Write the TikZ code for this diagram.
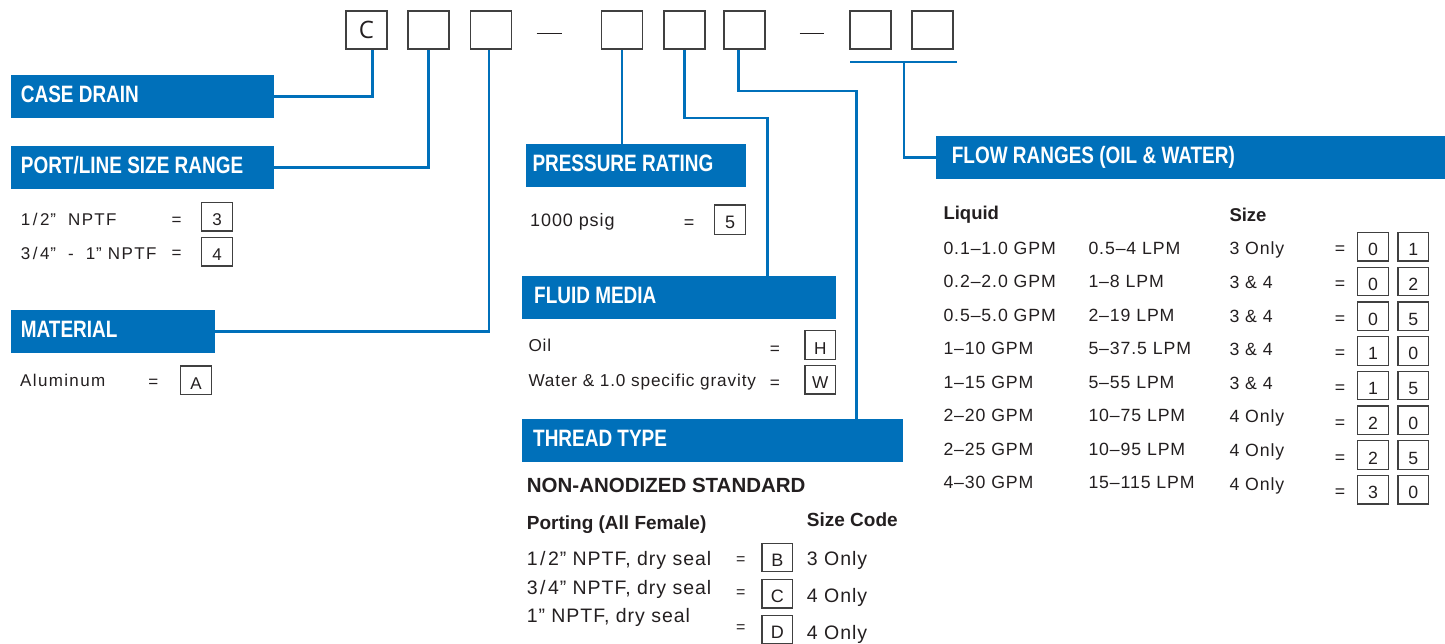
\documentclass[tikz,border=0pt]{standalone}
\usepackage{fontspec}
\setmainfont{Liberation Sans}
\newfontfamily\bodyf[LetterSpace=5]{Liberation Sans}
\newfontfamily\leftf[LetterSpace=8]{Liberation Sans}
\newfontfamily\hdrf[FakeStretch=0.8]{Liberation Sans Bold}
\newfontfamily\boldf{Liberation Sans Bold}
\newfontfamily\codef{Open Sans}
\newcommand\fsz[1]{\fontsize{#1}{#1}\selectfont}
\newcommand\fslash{\kern2.5pt/\kern2.5pt}
\newcommand\qmk{\kern0.8pt”}
\definecolor{bblue}{HTML}{0070BA}
\definecolor{txt}{HTML}{231F20}
\definecolor{bord}{HTML}{404040}
\tikzset{
  codebox/.style={draw=bord, line width=1.8pt, minimum width=41pt, minimum height=38pt, inner sep=0pt, font=\codef\fsz{24}, text=txt},
  hdrbox/.style={fill=bblue, draw=none, minimum height=42.7pt, inner sep=0pt, anchor=north west},
  hdrtext/.style={anchor=base west, inner sep=0pt, text=white, font=\hdrf\fsz{23.7}},
  conn/.style={draw=bblue, line width=2.8pt},
  tx/.style={anchor=base west, inner sep=0pt, text=txt},
  vbox/.style={draw=bord, line width=1.2pt, minimum width=30.5pt, minimum height=28.5pt, inner sep=0pt, text height=18pt, text depth=0pt, text=txt},
  eqn/.style={inner sep=0pt, text height=#1, text depth=0pt, text=txt},
  dashline/.style={draw=txt, line width=1.4pt}
}
\begin{document}
\begin{tikzpicture}[x=1pt,y=-1pt]
\useasboundingbox (0,0) rectangle (1445,643);
% top code boxes
\node[codebox] (b1) at (366.5,30) {C};
\node[codebox] (b2) at (428.5,30) {};
\node[codebox] (b3) at (491,30) {};
\node[codebox] (b4) at (622,30) {};
\node[codebox] (b5) at (684.5,30) {};
\node[codebox] (b6) at (744.2,30) {};
\node[codebox] (b7) at (870.5,30) {};
\node[codebox] (b8) at (932.8,30) {};
\coordinate (d1a) at (536.7,33.5); \coordinate (d1b) at (562.3,33.5);
\coordinate (d2a) at (799.7,33.5); \coordinate (d2b) at (824.3,33.5);
\draw[dashline] (d1a) -- (d1b);
\draw[dashline] (d2a) -- (d2b);
% headers
\node[hdrbox, minimum width=263pt] (hcase) at (11,75) {};
\node[hdrtext] at ([xshift=9.7pt,yshift=-6.3pt]hcase.west) {CASE DRAIN};
\node[hdrbox, minimum width=263pt] (hport) at (11,146) {};
\node[hdrtext] at ([xshift=9.7pt,yshift=-6.3pt]hport.west) {PORT/LINE SIZE RANGE};
\node[hdrbox, minimum width=204pt] (hmat) at (11,310) {};
\node[hdrtext] at ([xshift=9.7pt,yshift=-6.3pt]hmat.west) {MATERIAL};
\node[hdrbox, minimum width=220pt] (hpres) at (526,144) {};
\node[hdrtext] at ([xshift=6.3pt,yshift=-6.3pt]hpres.west) {PRESSURE RATING};
\node[hdrbox, minimum width=314pt] (hfluid) at (522,275.7) {};
\node[hdrtext] at ([xshift=12pt,yshift=-6.3pt]hfluid.west) {FLUID MEDIA};
\node[hdrbox, minimum width=380.7pt] (hthread) at (522,419) {};
\node[hdrtext] at ([xshift=11pt,yshift=-6.3pt]hthread.west) {THREAD TYPE};
\node[hdrbox, minimum width=509pt] (hflow) at (936,136) {};
\node[hdrtext] at ([xshift=15.7pt,yshift=-6.3pt]hflow.west) {FLOW RANGES (OIL \& WATER)};
% connectors
\draw[conn] ([xshift=6pt]b1.south) |- (hcase.east);
\draw[conn] (b2.south) |- (hport.east);
\draw[conn] ([xshift=-2pt]b3.south) |- (hmat.east);
\draw[conn] (b4.south) -- (b4.south |- hpres.north);
\coordinate (k5) at (767.7,118);
\draw[conn] (b5.south) |- (k5) -- (k5 |- hfluid.north);
\coordinate (k6) at (856.5,91);
\draw[conn] ([xshift=-6pt]b6.south) |- (k6) -- (k6 |- hthread.north);
\coordinate (fl) at (850.3,61.7);
\coordinate (fr) at (957.3,61.7);
\coordinate (fm) at (904,61.7);
\draw[conn, line width=2.4pt] (fl) -- (fr);
\draw[conn] (fm) |- (hflow.west);
% port/line size
\begin{scope}[every node/.append style={font=\leftf\fsz{17}}]
\node[tx] (p1) at (20.7,225.7) {1\fslash 2\qmk\ \ NPTF};
\node[eqn=11.5pt] (pe1) at (176.7,220) {=};
\node[vbox] (pv1) at (217,216.8) {3};
\node[tx] (p2) at (20.7,259.3) {3\fslash 4\qmk\ \ -\ \ 1\qmk\ NPTF};
\node[eqn=11.5pt] (pe2) at (176.7,253) {=};
\node[vbox] (pv2) at (217,251.8) {4};
\node[tx] (m1) at (20,386) {Aluminum};
\node[eqn=11.5pt] (me1) at (153.3,381.7) {=};
\node[vbox] (mv1) at (196,380.2) {A};
\end{scope}
% pressure
\begin{scope}[every node/.append style={font=\bodyf\fsz{18}}]
\node[tx] (r1) at (530,226.7) {1000 psig};
\node[eqn=12.2pt] (re1) at (689.2,222) {=};
\node[vbox, minimum width=31.4pt, minimum height=29.3pt] (rv1) at (730,219.7) {5};
\end{scope}
% fluid
\begin{scope}[every node/.append style={font=\bodyf\fsz{17.2}}]
\node[tx] (f1) at (528.3,351.7) {Oil};
\node[eqn=11.7pt] (fe1) at (775,348.3) {=};
\node[vbox] (fv1) at (820.2,345) {H};
\node[tx] (f2) at (528.3,386.7) {Water \& 1.0 specific gravity};
\node[eqn=11.7pt] (fe2) at (775,382.3) {=};
\node[vbox] (fv2) at (820.2,379.8) {W};
\end{scope}
% thread
\node[tx, font=\boldf\fsz{20.5}] (n1) at (526.7,492.3) {NON-ANODIZED STANDARD};
\node[tx, font=\boldf\fsz{19}] (n2) at (526.7,529.3) {Porting (All Female)};
\node[tx, font=\boldf\fsz{19}] (n3) at (806.7,526.7) {Size Code};
\begin{scope}[every node/.append style={font=\bodyf\fsz{19.5}}]
\node[tx] (tr1) at (526.7,565.7) {1\fslash 2\qmk\ NPTF, dry seal};
\node[tx] (tr2) at (526.7,594) {3\fslash 4\qmk\ NPTF, dry seal};
\node[tx] (tr3) at (526.7,622.3) {1\qmk\ NPTF, dry seal};
\node[eqn=10pt, font=\bodyf\fsz{16}] (te1) at (740.7,559) {=};
\node[eqn=10pt, font=\bodyf\fsz{16}] (te2) at (740.7,592.7) {=};
\node[eqn=10pt, font=\bodyf\fsz{16}] (te3) at (740.7,627.3) {=};
\node[vbox, font=\bodyf\fsz{18}] (tv1) at (777.3,557.5) {B};
\node[vbox, font=\bodyf\fsz{18}] (tv2) at (777.3,593.7) {C};
\node[vbox, font=\bodyf\fsz{18}] (tv3) at (777.3,629.8) {D};
\node[tx] (ts1) at (806.7,565.7) {3 Only};
\node[tx] (ts2) at (806.7,602.7) {4 Only};
\node[tx] (ts3) at (806.7,639.3) {4 Only};
\end{scope}
% flow ranges
\node[tx, font=\boldf\fsz{18.5}] (lq) at (943.3,219.3) {Liquid};
\node[tx, font=\boldf\fsz{18.5}] (sz) at (1229.3,221) {Size};
\begin{scope}[every node/.append style={font=\bodyf\fsz{17.7}}]
\foreach \i/\a/\b/\c/\d/\e in {0/0.1–1.0 GPM/0.5–4 LPM/3 Only/0/1,
  1/0.2–2.0 GPM/1–8 LPM/3 \& 4/0/2,
  2/0.5–5.0 GPM/2–19 LPM/3 \& 4/0/5,
  3/1–10 GPM/5–37.5 LPM/3 \& 4/1/0,
  4/1–15 GPM/5–55 LPM/3 \& 4/1/5,
  5/2–20 GPM/10–75 LPM/4 Only/2/0,
  6/2–25 GPM/10–95 LPM/4 Only/2/5,
  7/4–30 GPM/15–115 LPM/4 Only/3/0}{
  \node[tx] (fa\i) at (943.3,254.3+33.5*\i) {\a};
  \node[tx] (fb\i) at (1088.3,254.3+33.5*\i) {\b};
  \node[tx] (fc\i) at (1229.3,254.8+33.6*\i) {\c};
  \node[eqn=12pt] (fe\i) at (1340,248.8+34.7*\i) {=};
  \node[vbox] (fd\i) at (1373,246.8+34.7*\i) {\d};
  \node[vbox] (ff\i) at (1413.3,246.8+34.7*\i) {\e};
}
\end{scope}
\end{tikzpicture}
\end{document}
